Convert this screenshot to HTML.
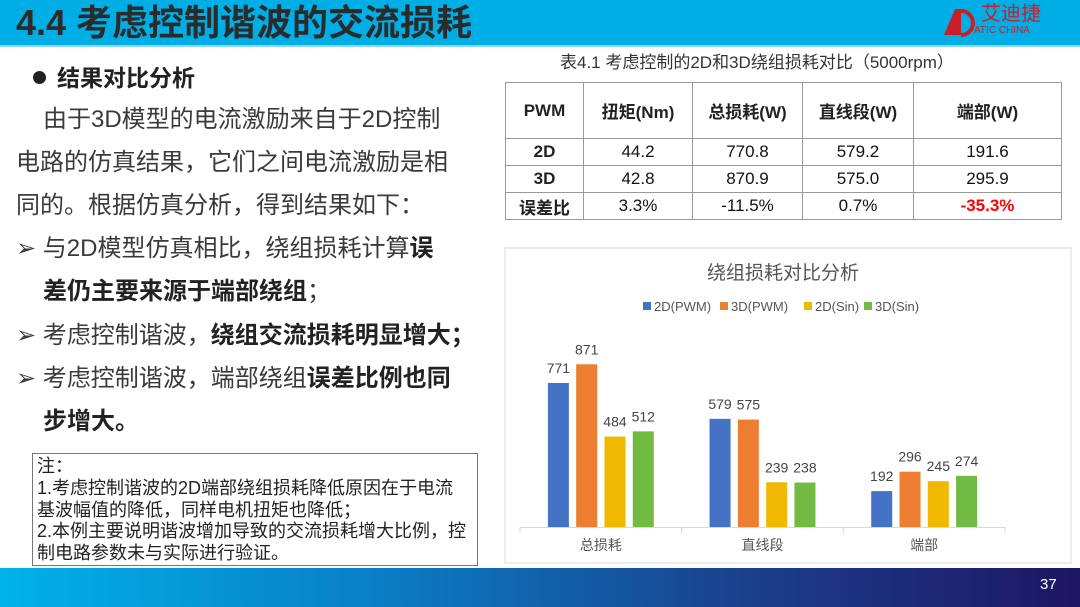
<!DOCTYPE html>
<html><head><meta charset="utf-8">
<style>
*{margin:0;padding:0;box-sizing:border-box}
body{width:1080px;height:607px;position:relative;overflow:hidden;background:#fff;font-family:"Liberation Sans","Noto Sans CJK SC",sans-serif;color:#333}
.abs{position:absolute;white-space:nowrap}
.ln{position:absolute;font-size:24px;line-height:30px;color:#3a3a3a;white-space:nowrap}
b{font-weight:bold;color:#222}
table{border-collapse:collapse}
td{border:1px solid #999;text-align:center;font-size:17px;color:#111}
</style></head><body>
<div class="abs" style="left:0;top:0;width:1080px;height:45px;background:#00aee6"></div>
<div class="abs" style="left:0;top:45px;width:1080px;height:2px;background:#8fd6f2"></div>
<div class="abs" style="left:16px;top:1px;font-size:36px;line-height:44px;font-weight:bold;color:#2b2b2b">4.4 考虑控制谐波的交流损耗</div>
<svg class="abs" style="left:942px;top:7px" width="34" height="30" viewBox="0 0 34 30"><path d="M2 28 L13 2 L19 2 L19 28 Z" fill="#c8202a"/><path d="M19 4 A12 12 0 0 1 19 28" fill="none" stroke="#c8202a" stroke-width="4"/></svg>
<div class="abs" style="left:981px;top:3px;font-size:20px;line-height:22px;color:#c8202a">艾迪捷</div>
<div class="abs" style="left:974px;top:25px;font-size:10px;line-height:11px;color:#c8202a">ATIC CHINA</div>

<div class="abs" style="left:33px;top:71px;width:13px;height:13px;border-radius:50%;background:#222"></div>
<div class="ln" style="left:57px;top:63px;font-weight:bold;color:#222;font-size:23px">结果对比分析</div>
<div>
<div class="ln" style="left:43px;top:105px">由于3D模型的电流激励来自于2D控制</div>
<div class="ln" style="left:16px;top:148px">电路的仿真结果，它们之间电流激励是相</div>
<div class="ln" style="left:16px;top:191px">同的。根据仿真分析，得到结果如下：</div>
<div class="ln" style="left:16px;top:234px">➢ 与2D模型仿真相比，绕组损耗计算<b>误</b></div>
<div class="ln" style="left:43px;top:277px"><b>差仍主要来源于端部绕组</b>；</div>
<div class="ln" style="left:16px;top:321px">➢ 考虑控制谐波，<b>绕组交流损耗明显增大；</b></div>
<div class="ln" style="left:16px;top:364px">➢ 考虑控制谐波，端部绕组<b>误差比例也同</b></div>
<div class="ln" style="left:43px;top:407px"><b>步增大。</b></div>
</div>
<div class="abs" style="left:32px;top:453px;width:446px;height:113px;border:1px solid #777;padding:2px 4px;font-size:18px;line-height:21.8px;color:#222">注：<br>1.考虑控制谐波的2D端部绕组损耗降低原因在于电流<br>基波幅值的降低，同样电机扭矩也降低；<br>2.本例主要说明谐波增加导致的交流损耗增大比例，控<br>制电路参数未与实际进行验证。</div>

<div class="abs" style="left:560px;top:52px;font-size:17px;line-height:22px;color:#333">表4.1 考虑控制的2D和3D绕组损耗对比（5000rpm）</div>
<table class="abs" style="left:505px;top:82px;width:557px">
<tr style="height:56px;font-weight:bold"><td style="width:78px"><b>PWM</b></td><td style="width:109px"><b>扭矩(Nm)</b></td><td style="width:110px"><b>总损耗(W)</b></td><td style="width:111px"><b>直线段(W)</b></td><td><b>端部(W)</b></td></tr>
<tr style="height:27px"><td><b>2D</b></td><td>44.2</td><td>770.8</td><td>579.2</td><td>191.6</td></tr>
<tr style="height:27px"><td><b>3D</b></td><td>42.8</td><td>870.9</td><td>575.0</td><td>295.9</td></tr>
<tr style="height:27px"><td><b>误差比</b></td><td>3.3%</td><td>-11.5%</td><td>0.7%</td><td style="color:#f00;font-weight:bold">-35.3%</td></tr>
</table>

<svg class="abs" id="chart" style="left:0;top:0" width="1080" height="607"></svg>

<div class="abs" style="left:0;top:568px;width:1080px;height:39px;background:linear-gradient(90deg,#00b2ea 0%,#0a7ec4 35%,#1b3e8a 70%,#1e1563 100%)"></div>
<div class="abs" style="left:1040px;top:576px;font-size:15px;color:#fff">37</div>

<script>
const categories=["总损耗","直线段","端部"];
const series=["2D(PWM)","3D(PWM)","2D(Sin)","3D(Sin)"];
const colors=["#4472c4","#ed7d31","#f0b800","#72bb42"];
const s2dPWM=[771,579,192];
const s3dPWM=[871,575,296];
const s2dSin=[484,239,245];
const s3dSin=[512,238,274];
const vals=[s2dPWM,s3dPWM,s2dSin,s3dSin];
const NS="http://www.w3.org/2000/svg";
const svg=document.getElementById('chart');
function mk(t,a,txt){const e=document.createElementNS(NS,t);for(const k in a)e.setAttribute(k,a[k]);if(txt!==undefined)e.textContent=txt;svg.appendChild(e);return e;}
const x0=520,x1=1005,base=527,scale=0.1868;
const cw=(x1-x0)/categories.length;
const y=v=>base-v*scale;
const fam='"Liberation Sans","Noto Sans CJK SC",sans-serif';
let e=mk('rect',{x:505,y:248,width:566,height:315,fill:'#fff',stroke:'#d9d9d9'});

e=mk('text',{x:783,y:279,'text-anchor':'middle','font-size':19,fill:'#555','font-family':fam},'绕组损耗对比分析');

const lx=[643,720,804,864];
series.forEach((s,i)=>{
 let r=mk('rect',{x:lx[i],y:302,width:8,height:8,fill:colors[i]});
 
 let t=mk('text',{x:lx[i]+11,y:311,'font-size':13,fill:'#555','font-family':fam},s);
 
});
e=mk('line',{x1:x0,y1:base+0.5,x2:x1,y2:base+0.5,stroke:'#d0d8ea'});

for(let i=0;i<=categories.length;i++){let t=mk('line',{x1:x0+i*cw,y1:base,x2:x0+i*cw,y2:base+6,stroke:'#d0d8ea'});
}
const bw=21,gap=28.3;
categories.forEach((c,ci)=>{
 const cx=x0+cw*(ci+0.5);
 let t=mk('text',{x:cx,y:550,'text-anchor':'middle','font-size':14,fill:'#555','font-family':fam},c);
 
 vals.forEach((arr,si)=>{
  const bx=cx-1.5*gap-bw/2+si*gap;
  const v=arr[ci];
  let r=mk('rect',{x:bx,y:y(v),width:bw,height:v*scale,fill:colors[si]});
  
  let l=mk('text',{x:bx+bw/2,y:y(v)-10,'text-anchor':'middle','font-size':14,fill:'#444','font-family':fam},String(v));
  
 });
});
</script>
</body></html>
